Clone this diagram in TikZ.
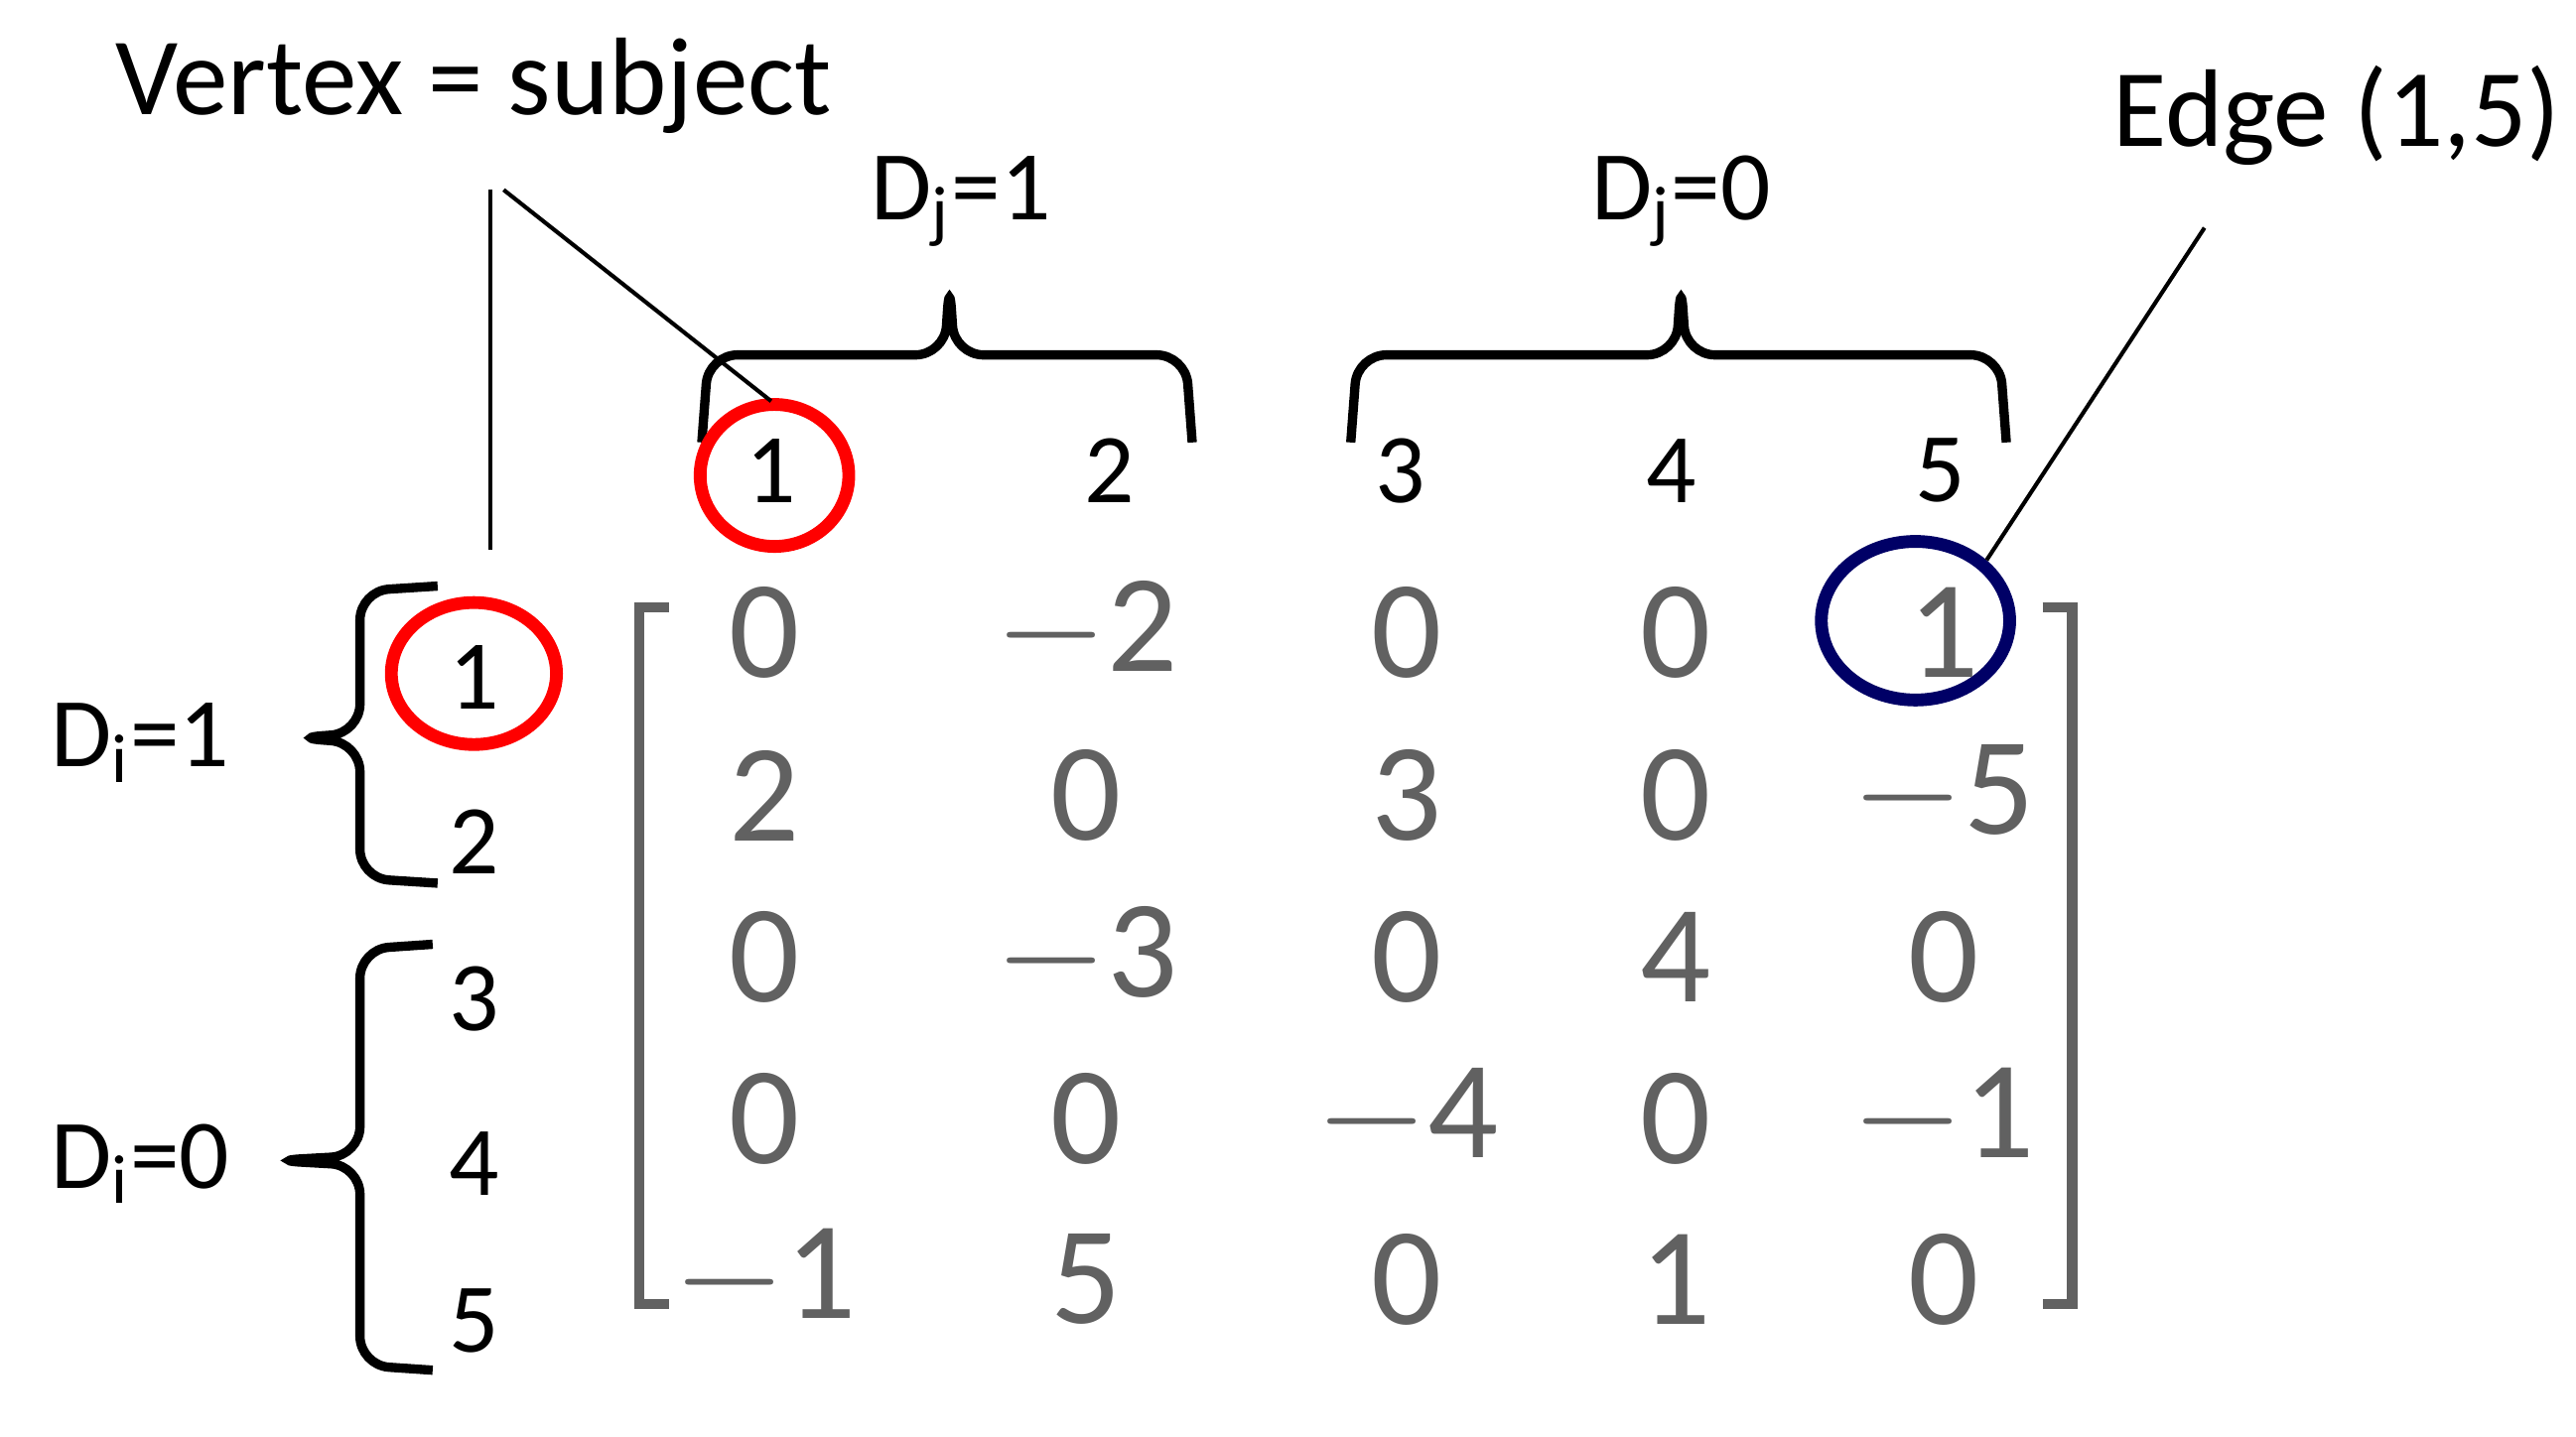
\documentclass[tikz,border=0pt]{standalone}
\usepackage{fontspec}
\usetikzlibrary{shapes.geometric}
\setmainfont{Carlito}
\begin{document}
\begin{tikzpicture}[x=0.01cm,y=-0.01cm,
  lab/.style={font=\fontsize{17}{19}\selectfont,inner sep=0pt},
  ent/.style={font=\fontsize{24}{27}\selectfont\rmfamily,text=black!62,inner sep=0pt},
  br/.style={line width=1.6pt,rounded corners=5pt},
  thin/.style={line width=0.7pt}]
\useasboundingbox (0,0) rectangle (1560,870);
\node[lab,font=\fontsize{19}{21}\selectfont] (vs) at (287,52) {Vertex = subject};
\node[lab] (dj1) at (582,122) {D\textsubscript{j}=1};
\node[lab] (dj0) at (1018,122) {D\textsubscript{j}=0};
\node[lab,font=\fontsize{19}{21}\selectfont] (e15) at (1415,70) {Edge (1,5)};
\node[lab] (di1) at (85,450) {D\textsubscript{i}=1};
\node[lab] (di0) at (85,705) {D\textsubscript{i}=0};
% column headers
\foreach \n/\x in {1/467,2/672,3/848,4/1012,5/1175} \node[lab] (c\n) at (\x,285) {\n};
\foreach \n/\y in {1/410,2/510,3/605,4/705,5/800} \node[lab] (r\n) at (287,\y) {\n};
% braces
\draw[br] (425,268) -- (429,215) -- (572,215) -- (575,170) -- (578,215) -- (718,215) -- (722,268);
\draw[br] (818,268) -- (822,215) -- (1015,215) -- (1018,170) -- (1021,215) -- (1211,215) -- (1215,268);
\draw[br] (265,355) -- (218,358) -- (218,444) -- (178,447) -- (218,450) -- (218,532) -- (265,535);
\draw[br] (262,572) -- (218,575) -- (218,700) -- (165,703) -- (218,706) -- (218,827) -- (262,830);
% circles
\draw[red,line width=2.2pt] (c1.center)+(2,3) ellipse (45 and 43);
\draw[red,line width=2.2pt] (r1.center)+(0,-2) ellipse (50 and 43);
\node[draw=blue!40!black,line width=2.2pt,ellipse,inner sep=0pt,minimum width=1.14cm,minimum height=0.96cm] (blue) at (1160,376) {};
% pointer lines
\coordinate (p1) at (297,115); \coordinate (p2) at (297,333);
\draw[thin] (p1) -- (p2);
\coordinate (p3) at (305,115); \coordinate (p4) at (467,243);
\draw[thin] (p3) -- (p4);
\coordinate (p5) at (1335,138);
\draw[thin] (p5) -- (blue.north east);
% matrix brackets
\draw[line width=1.8pt,black!62] (405,368) -- (387,368) -- (387,790) -- (405,790);
\draw[line width=1.8pt,black!62] (1237,368) -- (1255,368) -- (1255,790) -- (1237,790);
% entries
\foreach \r/\y/\a/\b/\c/\d/\e in {
 1/383/0/$-$2/0/0/1,
 2/482/2/0/3/0/$-$5,
 3/580/0/$-$3/0/4/0,
 4/678/0/0/$-$4/0/$-$1,
 5/775/$-$1/5/0/1/0}{
 \node[ent] (m\r a) at (463,\y) {\a};
 \node[ent] (m\r b) at (658,\y) {\b};
 \node[ent] (m\r c) at (852,\y) {\c};
 \node[ent] (m\r d) at (1015,\y) {\d};
 \node[ent] (m\r e) at (1177,\y) {\e};
}
\end{tikzpicture}
\end{document}
